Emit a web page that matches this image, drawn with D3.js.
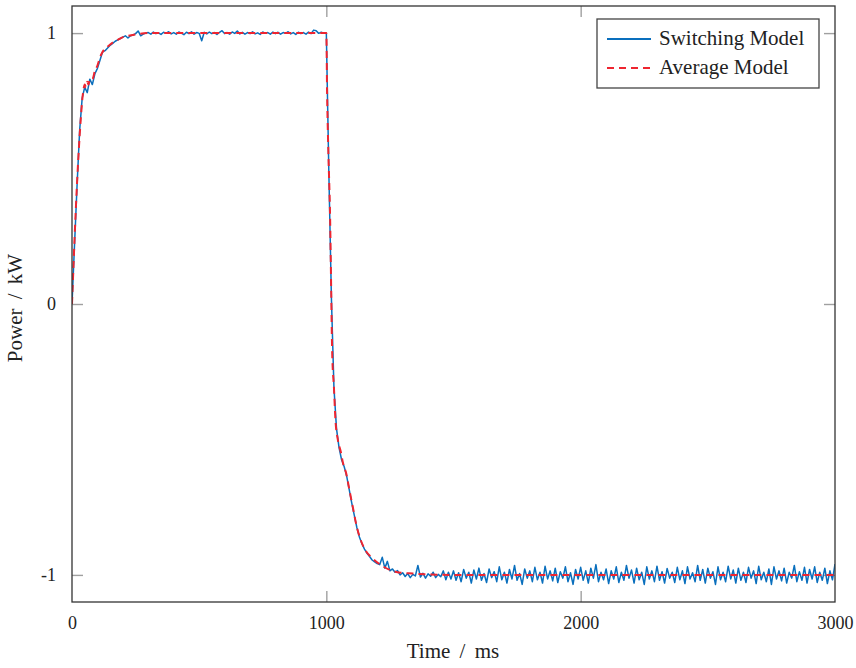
<!DOCTYPE html>
<html>
<head>
<meta charset="utf-8">
<script src="https://cdn.jsdelivr.net/npm/d3@7"></script>
<style>
  html, body { margin: 0; padding: 0; background: #fff; }
  svg { display: block; }
  text { font-family: "Liberation Serif", "Times New Roman", serif; fill: #222; }
</style>
</head>
<body>
<svg id="chart" width="856" height="668"></svg>
<script>
// ---------------- data ----------------
const xTicks = [0, 1000, 2000, 3000];
const yTicks = [-1, 0, 1];
const yTickLabels = ["-1", "0", "1"];
const seriesNames = ["Switching Model", "Average Model"];

// Switching model: sampled every 10 ms from 0 to 3000 ms
const swTime = d3.range(0, 3001, 10);
const swPower = [
  0, 0.22, 0.44, 0.64, 0.76, 0.80, 0.78, 0.83, 0.81, 0.85,
  0.87, 0.90, 0.93, 0.935, 0.945, 0.955, 0.962, 0.97, 0.975, 0.98,
  0.985, 0.99, 0.982, 0.99, 0.993, 0.998, 1.008, 0.99, 0.996, 1.0,
  1.002, 0.996, 1.004, 0.998, 1.001, 0.995, 1.003, 0.999, 1.005, 0.997,
  1.002, 0.996, 1.004, 1.0, 0.994, 1.003, 0.998, 1.005, 0.996, 1.002,
  0.999, 0.972, 1.003, 0.997, 1.004, 0.998, 1.002, 0.995, 1.003, 1.009,
  0.998, 1.002, 0.996, 1.004, 0.999, 1.008, 0.997, 1.003, 0.996, 1.002,
  0.998, 1.005, 0.997, 1.001, 0.995, 1.004, 0.999, 1.002, 0.996, 1.004,
  0.998, 1.003, 0.996, 1.002, 0.999, 1.005, 0.997, 1.002, 0.995, 1.003,
  0.998, 1.002, 0.996, 1.004, 0.998, 1.011, 1.009, 0.999, 1.003, 1.0,
  1.0, 0.48, 0.02, -0.31, -0.46, -0.53, -0.575, -0.60, -0.635, -0.685,
  -0.735, -0.78, -0.825, -0.86, -0.885, -0.905, -0.92, -0.932, -0.945, -0.952,
  -0.958, -0.962, -0.935, -0.975, -0.95, -0.985, -0.978, -0.99, -0.984, -1.0,
  -0.992, -1.006, -0.995, -1.01, -0.998, -1.004, -0.965, -1.008, -0.994, -1.012,
  -0.996, -1.005, -0.99, -1.01, -0.998, -1.007, -0.985, -1.018, -0.99, -1.015,
  -0.985, -1.02, -0.992, -1.025, -0.98, -1.012, -0.99, -1.03, -0.982, -1.015,
  -0.975, -1.02, -0.995, -1.028, -0.978, -1.01, -0.988, -1.025, -0.97, -1.018,
  -0.99, -1.03, -0.98, -1.015, -0.965, -1.02, -0.995, -1.035, -0.978, -1.012,
  -0.985, -1.025, -0.972, -1.018, -0.99, -1.03, -0.968, -1.015, -0.985, -1.022,
  -0.975, -1.028, -0.988, -1.012, -0.97, -1.025, -0.992, -1.035, -0.98, -1.015,
  -0.972, -1.02, -0.985, -1.03, -0.975, -1.012, -0.962, -1.025, -0.99, -1.018,
  -0.978, -1.032, -0.985, -1.015, -0.97, -1.028, -0.99, -1.02, -0.965, -1.012,
  -0.982, -1.03, -0.975, -1.018, -0.99, -1.035, -0.97, -1.015, -0.985, -1.025,
  -0.968, -1.02, -0.988, -1.03, -0.976, -1.012, -0.99, -1.028, -0.972, -1.018,
  -0.985, -1.032, -0.97, -1.015, -0.992, -1.025, -0.965, -1.02, -0.98, -1.03,
  -0.975, -1.012, -0.988, -1.035, -0.97, -1.018, -0.99, -1.025, -0.968, -1.015,
  -0.982, -1.03, -0.975, -1.02, -0.99, -1.028, -0.972, -1.012, -0.985, -1.032,
  -0.968, -1.018, -0.99, -1.025, -0.978, -1.035, -0.97, -1.015, -0.985, -1.022,
  -0.975, -1.03, -0.99, -1.012, -0.965, -1.025, -0.988, -1.02, -0.972, -1.03,
  -0.98, -1.015, -0.97, -1.028, -0.99, -1.02, -0.975, -1.032, -0.985, -1.018,
  -0.96
];

// Average model
const avgTime = [
  0, 5, 10, 15, 20, 25, 30, 35, 40, 45, 50, 55, 60, 65, 70, 80, 90, 100, 110, 120,
  140, 160, 180, 200, 220, 250, 300, 400, 500, 600, 700, 800, 900, 1000,
  1003, 1008, 1015, 1019, 1023, 1030, 1036, 1045, 1058, 1065, 1078, 1091, 1104, 1117,
  1131, 1150, 1183, 1222, 1275, 1340, 1400, 1500, 2000, 3000
];
const avgPower = [
  0, 0.12, 0.24, 0.35, 0.45, 0.54, 0.62, 0.69, 0.75, 0.79, 0.81, 0.80, 0.82, 0.81, 0.83, 0.83, 0.86, 0.88, 0.91, 0.93,
  0.95, 0.965, 0.975, 0.985, 0.99, 0.995, 1.0, 1.0, 1.0, 1.0, 1.0, 1.0, 1.0, 1.0,
  0.78, 0.56, 0.31, 0.06, -0.18, -0.31, -0.43, -0.50, -0.55, -0.585, -0.625, -0.688, -0.749, -0.811,
  -0.86, -0.903, -0.94, -0.968, -0.989, -0.995, -0.998, -1.0, -1.0, -1.0
];

// ---------------- chart ----------------
const svg = d3.select("#chart");
const pLeft = 72, pRight = 835, pTop = 6, pBottom = 602;

const x = d3.scaleLinear().domain([0, 3000]).range([pLeft, pRight]);
const y = d3.scaleLinear().domain([-1.1, 1.1]).range([pBottom, pTop]);

const defs = svg.append("defs");
defs.append("clipPath").attr("id", "plotclip")
  .append("rect").attr("x", pLeft).attr("y", pTop)
  .attr("width", pRight - pLeft).attr("height", pBottom - pTop);

const tickColor = "#a0a0a0";
const tickLen = 11;

const axB = d3.axisBottom(x).tickValues(xTicks).tickSize(-tickLen).tickFormat(d3.format("d")).tickPadding(14);
const axT = d3.axisTop(x).tickValues(xTicks).tickSize(-tickLen).tickFormat("");
const axL = d3.axisLeft(y).tickValues(yTicks).tickSize(-tickLen)
  .tickFormat(d => yTickLabels[yTicks.indexOf(d)]).tickPadding(16);
const axR = d3.axisRight(y).tickValues(yTicks).tickSize(-tickLen).tickFormat("");

function styleAxis(g) {
  g.select(".domain").remove();
  g.selectAll(".tick line").attr("stroke", tickColor).attr("stroke-width", 1.4);
  g.selectAll(".tick text").attr("font-family", "Liberation Serif, serif")
    .attr("font-size", 18).attr("fill", "#222");
}

const gB = svg.append("g").attr("transform", `translate(0,${pBottom})`).call(axB).call(styleAxis);
const gT = svg.append("g").attr("transform", `translate(0,${pTop})`).call(axT).call(styleAxis);
const gL = svg.append("g").attr("transform", `translate(${pLeft},0)`).call(axL).call(styleAxis);
const gR = svg.append("g").attr("transform", `translate(${pRight},0)`).call(axR).call(styleAxis);
[gB, gT].forEach(g => g.selectAll(".tick").filter(d => d === 0 || d === 3000).select("line").remove());

const swData = swTime.map((t, i) => ({ t, p: swPower[i] }));
const avgData = avgTime.map((t, i) => ({ t, p: avgPower[i] }));

const line = d3.line().x(d => x(d.t)).y(d => y(d.p));

const plot = svg.append("g").attr("clip-path", "url(#plotclip)");
plot.append("path").datum(swData)
  .attr("d", line)
  .attr("fill", "none").attr("stroke", "#0a6fbd").attr("stroke-width", 1.5)
  .attr("stroke-linejoin", "round");
plot.append("path").datum(avgData)
  .attr("d", d3.line().x(d => x(d.t)).y(d => y(d.p)).curve(d3.curveMonotoneX))
  .attr("fill", "none").attr("stroke", "#ee2530").attr("stroke-width", 2)
  .attr("stroke-dasharray", "7,5");

svg.append("rect").attr("x", pLeft).attr("y", pTop)
  .attr("width", pRight - pLeft).attr("height", pBottom - pTop)
  .attr("fill", "none").attr("stroke", "#333").attr("stroke-width", 1.3);

svg.append("text").attr("x", 453).attr("y", 658)
  .attr("text-anchor", "middle").attr("font-size", 21).attr("word-spacing", 4).text("Time / ms");
svg.append("text").attr("transform", `translate(22,${(pTop + pBottom) / 2 + 4}) rotate(-90)`)
  .attr("text-anchor", "middle").attr("font-size", 21).attr("word-spacing", 4).text("Power / kW");

const lg = svg.append("g");
lg.append("rect").attr("x", 597).attr("y", 19).attr("width", 222).attr("height", 69)
  .attr("fill", "#fff").attr("stroke", "#444").attr("stroke-width", 1.3);
const legendStyles = [
  { color: "#0a6fbd", dash: null, w: 1.8 },
  { color: "#ee2530", dash: "7,5", w: 2 }
];
seriesNames.forEach((name, i) => {
  const yy = 39 + i * 29;
  lg.append("line").attr("x1", 607).attr("x2", 651).attr("y1", yy).attr("y2", yy)
    .attr("stroke", legendStyles[i].color).attr("stroke-width", legendStyles[i].w)
    .attr("stroke-dasharray", legendStyles[i].dash);
  lg.append("text").attr("x", 659).attr("y", yy + 6).attr("font-size", 21).text(name);
});
</script>
</body>
</html>
